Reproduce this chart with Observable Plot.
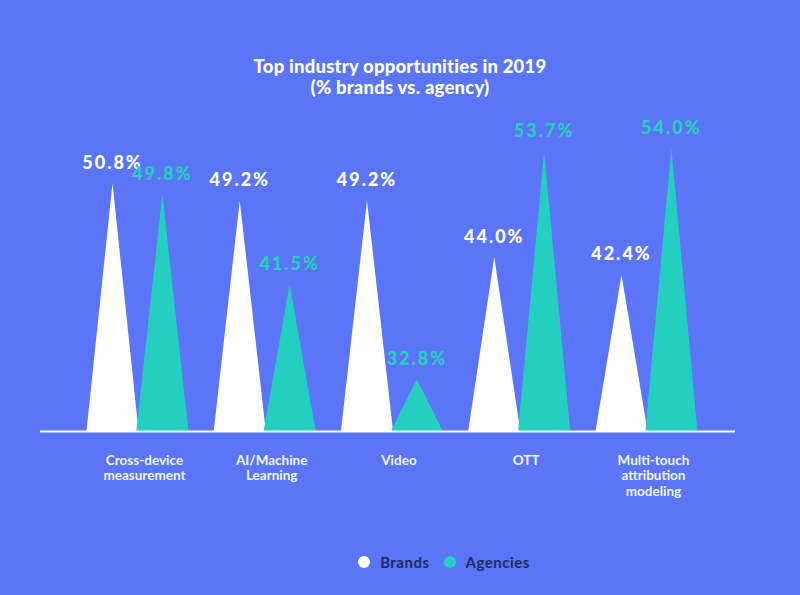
<!DOCTYPE html>
<html>
<head>
<meta charset="utf-8">
<script src="https://cdn.jsdelivr.net/npm/d3@7"></script>
<script src="https://cdn.jsdelivr.net/npm/@observablehq/plot@0.6"></script>
<style>
  html, body { margin: 0; padding: 0; background: #5B75F8; width: 800px; height: 595px; overflow: hidden; }
  #title { padding-top: 56px; height: 44px; box-sizing: content-box; text-align: center; color: #fff;
    font-family: Lato, "Open Sans", sans-serif; font-weight: 900; font-size: 18.5px; line-height: 21px; letter-spacing: 0.2px; }
  #chart { height: 410px; }
  #legend { margin-top: 43px; display: flex; justify-content: center; align-items: center; padding-left: 88px;
    font-family: Lato, "Open Sans", sans-serif; font-weight: 700; font-size: 15px; color: #1E2D5E; letter-spacing: 0.5px; }
  .sw { width: 12px; height: 12px; border-radius: 50%; display: inline-block; margin-right: 10px; }
  .item { display: flex; align-items: center; margin: 0 7px; }
</style>
</head>
<body>
<div id="title">Top industry opportunities in 2019<br>(% brands vs. agency)</div>
<div id="chart"></div>
<div id="legend"></div>
<script>
const categories = ["Cross-device\nmeasurement", "AI/Machine\nLearning", "Video", "OTT", "Multi-touch\nattribution\nmodeling"];
const brands = [50.8, 49.2, 49.2, 44.0, 42.4];
const agencies = [49.8, 41.5, 32.8, 53.7, 54.0];
const seriesNames = ["Brands", "Agencies"];
const seriesColors = ["#FFFFFF", "#23CFBE"];

const base = 28;          // value at the baseline of the spikes
const offset = 0.196;     // spike offset from group centre (in category units)
const halfWidth = 0.205;  // half of spike base width (in category units)

function spikes(values, off) {
  const pts = [];
  values.forEach((v, i) => {
    const c = i + off;
    pts.push({id: i, x: c - halfWidth, y: base});
    pts.push({id: i, x: c, y: v});
    pts.push({id: i, x: c + halfWidth, y: base});
  });
  return pts;
}
const labelRows = (values, off) => values.map((v, i) => ({x: i + off, y: v, label: v.toFixed(1) + "%"}));

const valueFont = {fontFamily: "Lato, 'Open Sans', sans-serif", fontWeight: 900, fontSize: 18};

const plot = Plot.plot({
  width: 800,
  height: 410,
  marginLeft: 40,
  marginRight: 65,
  marginTop: 37,
  marginBottom: 79,
  style: {background: "transparent", overflow: "visible"},
  x: {domain: [-0.762, 4.70], axis: null},
  y: {domain: [base, 55], axis: null},
  marks: [
    Plot.line(spikes(brands, -offset), {x: "x", y: "y", z: "id", fill: seriesColors[0], stroke: "none"}),
    Plot.line(spikes(agencies, offset), {x: "x", y: "y", z: "id", fill: seriesColors[1], stroke: "none"}),
    Plot.ruleY([base], {stroke: "#FFFFFF", strokeWidth: 2}),
    Plot.text(labelRows(brands, -offset), {x: "x", y: "y", text: "label", dy: -20, fill: seriesColors[0], ...valueFont}),
    Plot.text(labelRows(agencies, offset), {x: "x", y: "y", text: "label", dy: -20, fill: seriesColors[1], ...valueFont}),
    Plot.text(categories, {x: (d, i) => i, y: () => base, text: d => d, dy: 22, dx: 7, lineAnchor: "top",
      lineHeight: 1.15, fill: "#F2F4FF", fontFamily: "Lato, 'Open Sans', sans-serif", fontWeight: 700, fontSize: 13.5})
  ]
});
plot.querySelectorAll("text").forEach(t => { if (/%/.test(t.textContent)) t.style.letterSpacing = "2px"; });
document.getElementById("chart").appendChild(plot);

const legend = document.getElementById("legend");
seriesNames.forEach((n, i) => {
  const it = document.createElement("div");
  it.className = "item";
  it.innerHTML = `<span class="sw" style="background:${seriesColors[i]}"></span>${n}`;
  legend.appendChild(it);
});
</script>
</body>
</html>
